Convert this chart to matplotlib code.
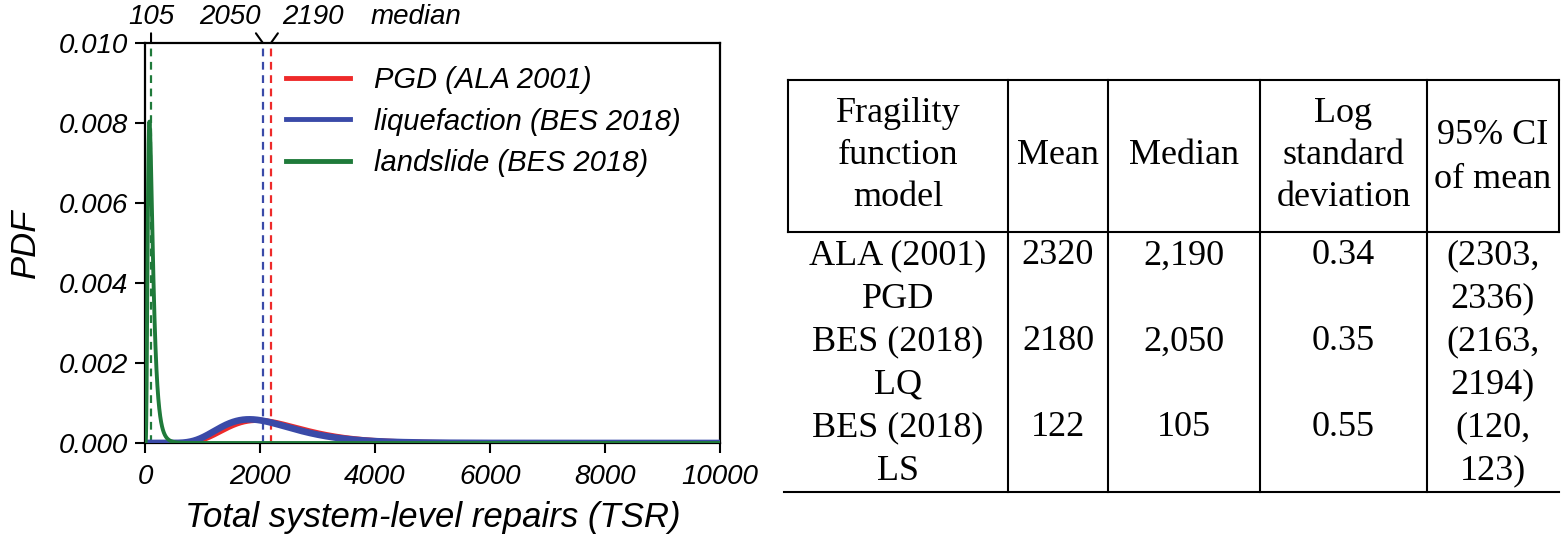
import numpy as np
import matplotlib
matplotlib.use("Agg")
import matplotlib.pyplot as plt
from matplotlib.lines import Line2D

# ---------------- data ----------------
series_labels = ["PGD (ALA 2001)", "liquefaction (BES 2018)", "landslide (BES 2018)"]
series_colors = ["#ee2a2a", "#3a4aa8", "#1f7a3a"]
medians = [2190, 2050, 105]
log_stds = [0.34, 0.35, 0.55]

table_models = [("ALA (2001)", "PGD"), ("BES (2018)", "LQ"), ("BES (2018)", "LS")]
table_means = [2320, 2180, 122]
table_medians = [2190, 2050, 105]
table_logstd = [0.34, 0.35, 0.55]
table_ci = [(2303, 2336), (2163, 2194), (120, 123)]
table_headers = [["Fragility", "function", "model"], ["Mean"], ["Median"],
                 ["Log", "standard", "deviation"], ["95% CI", "of mean"]]

x_ticks = [0, 2000, 4000, 6000, 8000, 10000]
y_ticks = [0.000, 0.002, 0.004, 0.006, 0.008, 0.010]

# ---------------- figure ----------------
W, H = 1566, 542
fig = plt.figure(figsize=(W / 100, H / 100), dpi=100)
sans = ["Liberation Sans", "DejaVu Sans"]
serif = ["Liberation Serif", "DejaVu Serif"]

ax_l, ax_r, ax_t, ax_b = 145, 720, 43, 443
ax = fig.add_axes([ax_l / W, 1 - ax_b / H, (ax_r - ax_l) / W, (ax_b - ax_t) / H])

x = np.linspace(0.5, 10000, 8000)
lws = [3.8, 4.8, 2.8]
for med, s, c, lw, lab in zip(medians, log_stds, series_colors, lws, series_labels):
    mu = np.log(med)
    pdf = np.exp(-(np.log(x) - mu) ** 2 / (2 * s ** 2)) / (x * s * np.sqrt(2 * np.pi))
    ax.plot(x, pdf, color=c, lw=lw, label=lab, solid_capstyle="butt", zorder=3)

for med, c in zip(medians, series_colors):
    ax.axvline(med, color=c, lw=1.6, ls=(0, (3.5, 2.5)), zorder=2)

ax.set_xlim(0, 10000)
ax.set_ylim(0, 0.010)
ax.set_xticks(x_ticks)
ax.set_xticklabels([str(t) for t in x_ticks], family=sans, style="italic", fontsize=20)
ax.set_yticks(y_ticks)
ax.set_yticklabels([f"{t:.3f}" for t in y_ticks], family=sans, style="italic", fontsize=20)
ax.tick_params(direction="out", length=7, width=1.5)
ax.tick_params(axis="x", pad=8)
ax.tick_params(axis="y", pad=5.5)
for sp in ax.spines.values():
    sp.set_linewidth(1.6)

ax.set_xlabel("Total system-level repairs (TSR)", family=sans, style="italic", fontsize=25, labelpad=8)
ax.set_ylabel("PDF", family=sans, style="italic", fontsize=25, labelpad=12)

handles = [Line2D([0], [0], color=c, lw=3.5) for c in series_colors]
leg = ax.legend(handles, series_labels, loc="upper left", bbox_to_anchor=(0.215, 0.985),
                frameon=False, prop=dict(family=sans, style="italic", size=21),
                handlelength=2.2, handletextpad=0.8, labelspacing=0.45, borderaxespad=0.2)

# top median markers
conn_dx = {105: 0, 2050: -5, 2190: 5}
label_dx = {105: 0, 2050: -24, 2190: 30}
for med in medians:
    ax.annotate("", xy=(med, 1.0), xycoords=("data", "axes fraction"),
                xytext=(conn_dx[med], 7), textcoords="offset points",
                arrowprops=dict(arrowstyle="-", lw=1.5, color="black", shrinkA=0, shrinkB=0),
                annotation_clip=False)
    ax.annotate(str(med), xy=(med, 1.0), xycoords=("data", "axes fraction"),
                xytext=(label_dx[med], 18.5), textcoords="offset points",
                ha="center", va="center", family=sans, style="italic", fontsize=20,
                annotation_clip=False)
ax.text((416 - ax_l) / (ax_r - ax_l), 1 + 25.5 / (ax_b - ax_t), "median", transform=ax.transAxes,
        ha="center", va="center", family=sans, style="italic", fontsize=20)

# ---------------- table ----------------
tax = fig.add_axes([0, 0, 1, 1])
tax.set_xlim(0, W)
tax.set_ylim(H, 0)
tax.axis("off")
tax.set_zorder(-1)

col_edges = [788, 1008, 1108, 1260, 1427, 1559]
y_top, y_head, y_bot = 80, 232, 492
lw_t = 1.5
tax.plot([col_edges[0], col_edges[-1]], [y_top, y_top], color="black", lw=lw_t)
tax.plot([col_edges[0], col_edges[-1]], [y_head, y_head], color="black", lw=lw_t)
tax.plot([col_edges[0] - 4, col_edges[-1]], [y_bot, y_bot], color="black", lw=lw_t)
tax.plot([col_edges[0], col_edges[0]], [y_top, y_head], color="black", lw=lw_t)
tax.plot([col_edges[-1], col_edges[-1]], [y_top, y_head], color="black", lw=lw_t)
for xe in col_edges[1:-1]:
    tax.plot([xe, xe], [y_top, y_bot], color="black", lw=lw_t)

centers = [(a + b) / 2 for a, b in zip(col_edges[:-1], col_edges[1:])]
fs = 26
head_y = {3: [114, 156, 198], 1: [156], 2: [136, 179]}
for ci_, lines in enumerate(table_headers):
    ys = head_y[len(lines)]
    for ln, yy in zip(lines, ys):
        tax.text(centers[ci_], yy, ln, ha="center", va="center", family=serif, fontsize=fs)

row_y0 = 256
line_step = 43
row_step = 2 * line_step
for r in range(len(table_models)):
    y1 = row_y0 + r * row_step
    y2 = y1 + line_step
    tax.text(centers[0], y1, table_models[r][0], ha="center", va="center", family=serif, fontsize=fs)
    tax.text(centers[0], y2, table_models[r][1], ha="center", va="center", family=serif, fontsize=fs)
    tax.text(centers[1], y1, f"{table_means[r]}", ha="center", va="center", family=serif, fontsize=fs)
    tax.text(centers[2], y1, f"{table_medians[r]:,}", ha="center", va="center", family=serif, fontsize=fs)
    tax.text(centers[3], y1, f"{table_logstd[r]:.2f}", ha="center", va="center", family=serif, fontsize=fs)
    tax.text(centers[4], y1, f"({table_ci[r][0]},", ha="center", va="center", family=serif, fontsize=fs)
    tax.text(centers[4], y2, f"{table_ci[r][1]})", ha="center", va="center", family=serif, fontsize=fs)

fig.savefig("out.png", dpi=100)
